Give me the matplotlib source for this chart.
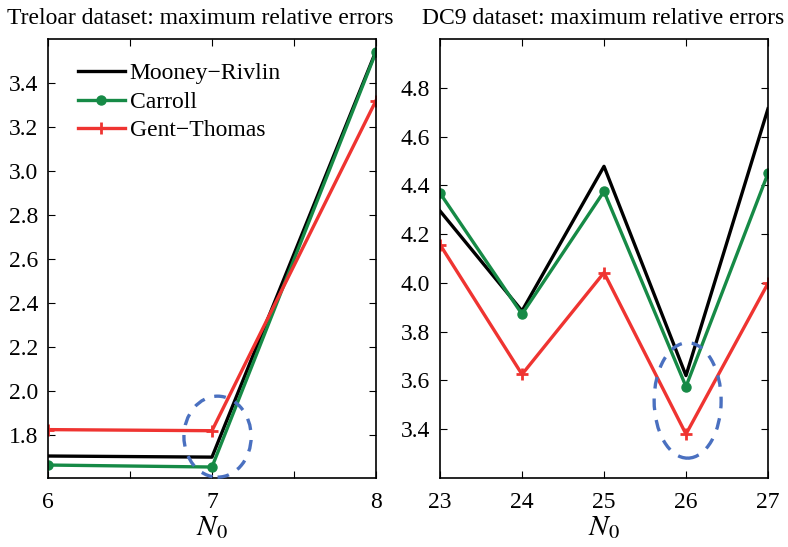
import matplotlib
matplotlib.use("Agg")
import matplotlib.pyplot as plt
from matplotlib.patches import Ellipse

plt.rcParams['font.family'] = ['Liberation Serif', 'DejaVu Serif']
plt.rcParams['mathtext.fontset'] = 'stix'

# Treloar dataset
n0_treloar = [6, 7, 8]
mr_treloar = [1.705, 1.700, 3.545]
carroll_treloar = [1.664, 1.655, 3.540]
gent_treloar = [1.825, 1.820, 3.320]

# DC9 dataset
n0_dc9 = [23, 24, 25, 26, 27]
mr_dc9 = [4.295, 3.885, 4.478, 3.620, 4.714]
carroll_dc9 = [4.368, 3.872, 4.375, 3.575, 4.449]
gent_dc9 = [4.157, 3.625, 4.042, 3.380, 3.998]

c_black = "#000000"
c_green = "#168a46"
c_red = "#ef3431"
c_blue = "#4a70c0"

fig = plt.figure(figsize=(7.88, 5.47), dpi=100)
ax1 = fig.add_axes([0.0609, 0.1261, 0.4162, 0.8026])
ax2 = fig.add_axes([0.5584, 0.1261, 0.4162, 0.8026])


def draw(ax, x, mr, ca, gt):
    ax.plot(x, mr, color=c_black, lw=2.4, label="Mooney\u2212Rivlin")
    ax.plot(x, ca, color=c_green, lw=2.4, marker="o", ms=6.5, label="Carroll")
    ax.plot(x, gt, color=c_red, lw=2.4, marker="+", ms=8, mew=2,
            label="Gent\u2212Thomas")
    ax.tick_params(direction="in", top=True, right=True, labelsize=17,
                   length=5)
    ax.tick_params(axis="x", pad=10)
    ax.tick_params(axis="y", pad=7)
    ax.set_xlabel("$N_0$", fontsize=21, labelpad=1)
    for s in ax.spines.values():
        s.set_linewidth(1.2)


draw(ax1, n0_treloar, mr_treloar, carroll_treloar, gent_treloar)
ax1.set_xlim(6, 8)
ax1.set_ylim(1.605, 3.6)
ax1.set_xticks([6, 6.5, 7, 7.5, 8])
ax1.set_xticklabels(["6", "", "7", "", "8"])
yt1 = [1.8, 2.0, 2.2, 2.4, 2.6, 2.8, 3.0, 3.2, 3.4]
ax1.set_yticks(yt1)
ax1.set_yticklabels([f"{v:.1f}" for v in yt1])
ax1.legend(loc="upper left", frameon=False, fontsize=17, handlelength=2.0,
           handletextpad=0.2, labelspacing=0.3, borderaxespad=0,
           borderpad=0, bbox_to_anchor=(0.091, 0.946))
ax1.add_patch(Ellipse((7.034, 1.793), 0.41, 0.368, fill=False,
                      edgecolor=c_blue, lw=2.4, ls=(0, (3.5, 3)),
                      clip_on=False, zorder=5))

draw(ax2, n0_dc9, mr_dc9, carroll_dc9, gent_dc9)
ax2.set_xlim(23, 27)
ax2.set_ylim(3.2, 5.0)
ax2.set_xticks([23, 24, 25, 26, 27])
yt2 = [3.4, 3.6, 3.8, 4.0, 4.2, 4.4, 4.6, 4.8]
ax2.set_yticks(yt2)
ax2.set_yticklabels([f"{v:.1f}" for v in yt2])
ax2.add_patch(Ellipse((26.02, 3.518), 0.817, 0.473, fill=False,
                      edgecolor=c_blue, lw=2.4, ls=(0, (3.5, 3)),
                      clip_on=False, zorder=5))

fig.text(200 / 788, 1 - 18 / 547, "Treloar dataset: maximum relative errors",
         ha="center", va="center", fontsize=17)
fig.text(603 / 788, 1 - 18 / 547, "DC9 dataset: maximum relative errors",
         ha="center", va="center", fontsize=17)

fig.savefig("out.png", dpi=100)
